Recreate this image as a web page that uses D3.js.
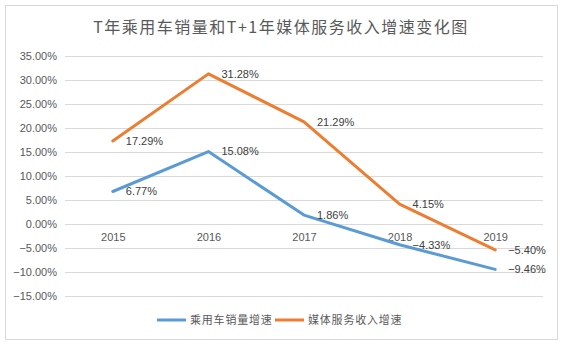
<!DOCTYPE html>
<html><head><meta charset="utf-8">
<script src="https://cdn.jsdelivr.net/npm/d3@7/dist/d3.min.js"></script>
<style>
html,body{margin:0;padding:0;background:#fff;}
svg{display:block;font-family:"Liberation Sans","Noto Sans CJK SC",sans-serif;}
</style></head>
<body>
<svg id="c" width="563" height="345"></svg>
<script>
const title = "T年乘用车销量和T+1年媒体服务收入增速变化图";
const categories = ["2015","2016","2017","2018","2019"];
const seriesNames = ["乘用车销量增速","媒体服务收入增速"];
const carSales = [6.77, 15.08, 1.86, -4.33, -9.46];
const mediaRevenue = [17.29, 31.28, 21.29, 4.15, -5.40];
const tickValues = [-15,-10,-5,0,5,10,15,20,25,30,35];
const colors = ["#5B9BD5","#ED7D31"];

const svg = d3.select("#c");
svg.append("rect").attr("x",5.5).attr("y",5.5).attr("width",552).attr("height",334)
  .attr("fill","#fff").attr("stroke","#d9d9d9");

const x = d3.scalePoint().domain(categories).range([65,543]).padding(0.5);
const y = d3.scaleLinear().domain([-15,35]).range([296,56]);
const fmt = v => d3.format(".2f")(v) + "%";

// gridlines + y axis
const yAxis = d3.axisLeft(y).tickValues(tickValues).tickSize(-(543-65)).tickFormat(fmt).tickPadding(8);
const ga = svg.append("g").attr("transform","translate(65,0)").call(yAxis);
ga.select(".domain").remove();
ga.selectAll(".tick line").attr("stroke","#d9d9d9").attr("stroke-width",1);
ga.selectAll(".tick text").attr("fill","#595959").attr("font-size",11)
  .attr("font-family","'Liberation Sans',sans-serif");

// category labels
const xAxis = d3.axisBottom(x).tickSize(0).tickPadding(9);
const gx = svg.append("g").attr("transform",`translate(0,${y(0)})`).call(xAxis);
gx.select(".domain").remove();
gx.selectAll(".tick text").attr("fill","#595959").attr("font-size",11)
  .attr("font-family","'Liberation Sans',sans-serif");

// lines
const series = [carSales, mediaRevenue];
const line = d3.line().x((d,i)=>x(categories[i])).y(d=>y(d));
series.forEach((s,k)=>{
  svg.append("path").datum(s).attr("d",line).attr("fill","none")
    .attr("stroke",colors[k]).attr("stroke-width",3).attr("stroke-linejoin","round").attr("stroke-linecap","round");
});
series.forEach((s,k)=>{
  svg.append("g").selectAll("text").data(s).join("text")
    .attr("x",(d,i)=>x(categories[i])+13).attr("y",d=>y(d)).attr("dy","0.35em")
    .attr("fill","#404040").attr("font-size",11)
    .text(d=>fmt(d));
});

// title
svg.append("text").attr("x",281).attr("y",27).attr("dy","0.35em").attr("text-anchor","middle")
  .attr("fill","#595959").attr("font-size",16).attr("letter-spacing","1.5px")
  .attr("font-family","'Noto Sans CJK SC',sans-serif").text(title);

// legend
const legendX = [157, 275];
seriesNames.forEach((n,k)=>{
  const g = svg.append("g").attr("transform",`translate(${legendX[k]},320)`);
  g.append("line").attr("x1",0).attr("x2",29).attr("stroke",colors[k]).attr("stroke-width",3);
  g.append("text").attr("x",33).attr("dy","0.35em").attr("fill","#595959").attr("font-size",11)
    .attr("letter-spacing","0.8px").attr("font-family","'Noto Sans CJK SC',sans-serif").text(n);
});
</script>
</body></html>
